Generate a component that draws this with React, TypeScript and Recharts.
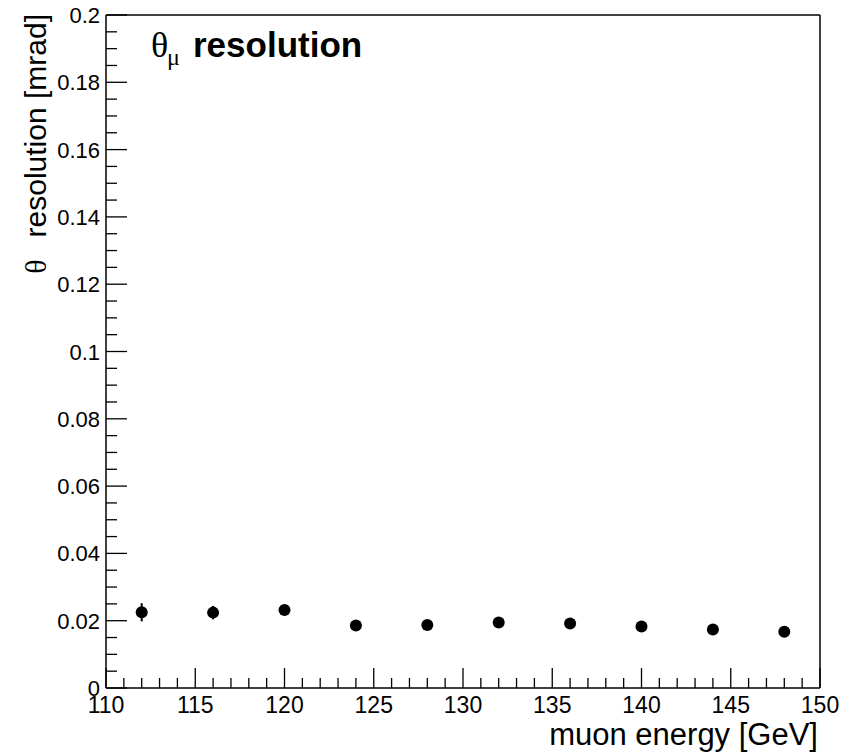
import { ErrorBar, ReferenceLine, Scatter, ScatterChart, XAxis, YAxis } from 'recharts';

// muon energy scan: angular resolution per energy point
const energyGeV = [112, 116, 120, 124, 128, 132, 136, 140, 144, 148];
const thetaRes = [0.0225, 0.0224, 0.0232, 0.0186, 0.0187, 0.0195, 0.0192, 0.0183, 0.0174, 0.0167];
const thetaErr = [0.0027, 0.002, 0.0012, 0.0007, 0.0007, 0.0007, 0.0007, 0.0007, 0.0007, 0.0007];

// ROOT-style ticks: minor every 1 GeV / 0.005 mrad, labelled majors
const xTicks = Array.from({ length: 41 }, (_, i) => 110 + i);
const yTicks = Array.from({ length: 41 }, (_, i) => i * 0.005);

const data = energyGeV.map((e, i) => ({ e, res: thetaRes[i], err: thetaErr[i] }));

const sans = '"Liberation Sans", Arial, sans-serif';
const serif = '"Liberation Serif", "Times New Roman", serif';

const XTick = ({ x, y, payload }: any) => {
  const v = payload.value as number;
  const major = v % 5 === 0;
  return (
    <g>
      <line x1={x} x2={x} y1={y} y2={y - (major ? 20 : 10)} stroke="#000" strokeWidth={1.3} />
      {major && (
        <text x={x} y={y + 25} textAnchor="middle" fontFamily={sans} fontSize={23} fill="#000">
          {v}
        </text>
      )}
    </g>
  );
};

const YTick = ({ x, y, payload }: any) => {
  const v = payload.value as number;
  const major = Math.round(v * 1000) % 20 === 0;
  return (
    <g>
      <line x1={x} x2={x + (major ? 21 : 11)} y1={y} y2={y} stroke="#000" strokeWidth={1.3} />
      {major && (
        <text x={x - 6} y={y + 8} textAnchor="end" fontFamily={sans} fontSize={22} fill="#000">
          {String(Number(v.toFixed(3)))}
        </text>
      )}
    </g>
  );
};

const Dot = (props: any) => <circle cx={props.cx} cy={props.cy} r={6} fill="#000" />;

export default function App() {
  return (
    <div style={{ position: 'absolute', left: 0, top: 0, background: '#fff' }}>
      <ScatterChart width={855} height={754} margin={{ top: 15, right: 35, bottom: 0, left: 0 }}>
        <XAxis
          type="number"
          dataKey="e"
          domain={[110, 150]}
          ticks={xTicks}
          interval={0}
          height={66}
          tickSize={0}
          tickMargin={0}
          tickLine={false}
          tick={<XTick />}
          axisLine={{ stroke: '#000', strokeWidth: 1.5 }}
          allowDataOverflow
        />
        <YAxis
          type="number"
          dataKey="res"
          domain={[0, 0.2]}
          ticks={yTicks}
          interval={0}
          width={106}
          tickSize={0}
          tickMargin={0}
          tickLine={false}
          tick={<YTick />}
          axisLine={{ stroke: '#000', strokeWidth: 1.5 }}
          allowDataOverflow
        />
        <ReferenceLine y={0.2} stroke="#000" strokeWidth={1.5} />
        <ReferenceLine x={150} stroke="#000" strokeWidth={1.5} />
        <Scatter data={data} shape={<Dot />} isAnimationActive={false}>
          <ErrorBar dataKey="err" direction="y" width={0} stroke="#000" strokeWidth={2} isAnimationActive={false} />
        </Scatter>

        <text x={151} y={57} fontFamily={serif} fontSize={36} fill="#000">
          θ
        </text>
        <text x={167} y={65} fontFamily={serif} fontSize={24} fill="#000">
          μ
        </text>
        <text x={193} y={57} fontFamily={sans} fontSize={35} fontWeight="bold" fill="#000">
          resolution
        </text>

        <text x={818} y={745} textAnchor="end" fontFamily={sans} fontSize={31} fill="#000">
          muon energy [GeV]
        </text>
        <text x={46} y={14} textAnchor="end" transform="rotate(-90, 46, 14)" fontFamily={sans} fontSize={30} fill="#000">
          <tspan fontFamily={serif}>θ</tspan>
          <tspan dx={22}>resolution [mrad]</tspan>
        </text>
      </ScatterChart>
    </div>
  );
}
